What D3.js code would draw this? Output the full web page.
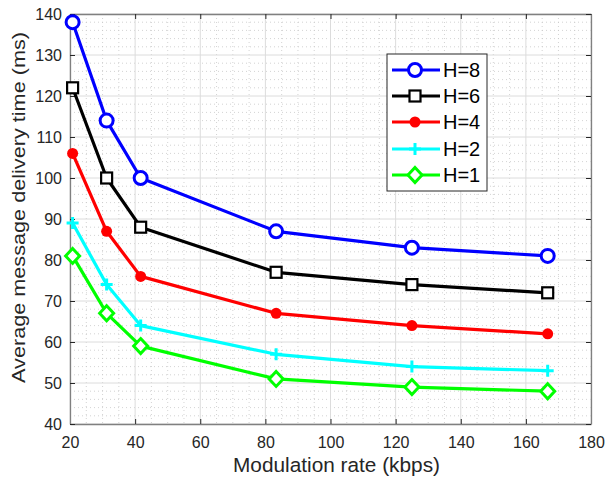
<!DOCTYPE html>
<html><head><meta charset="utf-8">
<script src="https://cdn.jsdelivr.net/npm/d3@7"></script>
<style>body{margin:0;background:#fff}svg{display:block}text{font-family:"Liberation Sans",Arial,sans-serif}</style>
</head><body>
<script>
const rates = [20.8, 31.25, 41.7, 83.3, 125, 166.7];
const h8 = [138, 114, 100, 87, 83, 81];
const h6 = [122, 100, 88, 77, 74, 72];
const h4 = [106, 87, 76, 67, 64, 62];
const h2 = [89, 74, 64, 57, 54, 53];
const h1 = [81, 67, 59, 51, 49, 48];
const seriesNames = ["H=8", "H=6", "H=4", "H=2", "H=1"];
const xTicks = [20, 40, 60, 80, 100, 120, 140, 160, 180];
const yTicks = [40, 50, 60, 70, 80, 90, 100, 110, 120, 130, 140];

const W = 605, H = 477;
const m = {l: 70, r: 591, t: 14, b: 424};
const svg = d3.select("body").append("svg").attr("width", W).attr("height", H);
const x = d3.scaleLinear().domain([20, 180]).range([m.l, m.r]);
const y = d3.scaleLinear().domain([40, 140]).range([m.b, m.t]);

// minor grid
const g = svg.append("g");
g.selectAll(".mx").data(d3.range(20, 181, 5).filter(v => v % 20 !== 0)).join("line")
  .attr("x1", d => x(d)).attr("x2", d => x(d)).attr("y1", m.t).attr("y2", m.b)
  .attr("stroke", "#c8c8c8").attr("stroke-width", 0.8).attr("stroke-dasharray", "1,3");
g.selectAll(".my").data(d3.range(40, 141, 2).filter(v => v % 10 !== 0)).join("line")
  .attr("y1", d => y(d)).attr("y2", d => y(d)).attr("x1", m.l).attr("x2", m.r)
  .attr("stroke", "#c8c8c8").attr("stroke-width", 0.8).attr("stroke-dasharray", "1,3");
// major grid
g.selectAll(".gx").data(xTicks).join("line")
  .attr("x1", d => x(d)).attr("x2", d => x(d)).attr("y1", m.t).attr("y2", m.b)
  .attr("stroke", "#dcdcdc").attr("stroke-width", 1);
g.selectAll(".gy").data(yTicks).join("line")
  .attr("y1", d => y(d)).attr("y2", d => y(d)).attr("x1", m.l).attr("x2", m.r)
  .attr("stroke", "#dcdcdc").attr("stroke-width", 1);

// axes
const axCol = "#808080";
const xb = svg.append("g").attr("transform", `translate(0,${m.b})`)
  .call(d3.axisBottom(x).tickValues(xTicks).tickSize(-5).tickPadding(13).tickSizeOuter(0));
const xt = svg.append("g").attr("transform", `translate(0,${m.t})`)
  .call(d3.axisTop(x).tickValues(xTicks).tickSize(-5).tickFormat("").tickSizeOuter(0));
const yl = svg.append("g").attr("transform", `translate(${m.l},0)`)
  .call(d3.axisLeft(y).tickValues(yTicks).tickSize(-5).tickPadding(8).tickSizeOuter(0));
const yr = svg.append("g").attr("transform", `translate(${m.r},0)`)
  .call(d3.axisRight(y).tickValues(yTicks).tickSize(-5).tickFormat("").tickSizeOuter(0));
[xb, xt, yl, yr].forEach(a => {
  a.select(".domain").attr("stroke", axCol).attr("stroke-width", 1.3);
  a.selectAll(".tick line").attr("stroke", "#262626");
  a.selectAll(".tick text").attr("fill", "#262626").style("font-size", "16px")
   .style("font-family", "Liberation Sans, Arial, sans-serif");
});

// series
const data = [h8, h6, h4, h2, h1];
const colors = ["#0000ff", "#000000", "#ff0000", "#00ffff", "#00ff00"];
const shapes = ["circle", "square", "dot", "plus", "diamond"];
const line = d3.line().x((d, i) => x(rates[i])).y(d => y(d));

function marker(sel, shape, color) {
  if (shape === "circle") {
    sel.append("circle").attr("r", 6.5).attr("fill", "#fff").attr("stroke", color).attr("stroke-width", 3);
  } else if (shape === "square") {
    sel.append("rect").attr("x", -5.5).attr("y", -5.5).attr("width", 11).attr("height", 11)
      .attr("fill", "#fff").attr("stroke", color).attr("stroke-width", 2.2);
  } else if (shape === "dot") {
    sel.append("circle").attr("r", 5.5).attr("fill", color);
  } else if (shape === "plus") {
    sel.append("path").attr("d", "M-6,0H6M0,-6V6").attr("stroke", color).attr("stroke-width", 3);
  } else if (shape === "diamond") {
    sel.append("path").attr("d", "M0,-7.5L7,0L0,7.5L-7,0Z").attr("fill", "#fff")
      .attr("stroke", color).attr("stroke-width", 3);
  }
}

data.forEach((vals, k) => {
  svg.append("path").datum(vals).attr("d", line).attr("fill", "none")
    .attr("stroke", colors[k]).attr("stroke-width", 3.2).attr("stroke-linejoin", "round");
  svg.selectAll(null).data(vals).join("g")
    .attr("transform", (d, i) => `translate(${x(rates[i])},${y(d)})`)
    .each(function () { marker(d3.select(this), shapes[k], colors[k]); });
});

// legend
const lg = svg.append("g");
lg.append("rect").attr("x", 387).attr("y", 54).attr("width", 100).attr("height", 137)
  .attr("fill", "#fff").attr("stroke", "#262626").attr("stroke-width", 1);
const ly = [70, 96, 122, 149, 175];
seriesNames.forEach((n, k) => {
  const it = lg.append("g").attr("transform", `translate(0,${ly[k]})`);
  it.append("line").attr("x1", 392).attr("x2", 440).attr("y1", 0).attr("y2", 0)
    .attr("stroke", colors[k]).attr("stroke-width", 3.2);
  marker(it.append("g").attr("transform", "translate(415,0)"), shapes[k], colors[k]);
  it.append("text").attr("x", 443).attr("y", 7).attr("fill", "#000").style("font-size", "20px").text(n);
});

// axis labels
svg.append("text").attr("x", 336.5).attr("y", 472).attr("text-anchor", "middle")
  .attr("fill", "#262626").style("font-size", "20.5px")
  .attr("textLength", 207).attr("lengthAdjust", "spacingAndGlyphs")
  .text("Modulation rate (kbps)");
svg.append("text").attr("transform", `translate(25,207.5) rotate(-90)`)
  .attr("text-anchor", "middle").attr("fill", "#262626").style("font-size", "19px")
  .attr("textLength", 351).attr("lengthAdjust", "spacingAndGlyphs")
  .text("Average message delivery time (ms)");
</script>
</body></html>
